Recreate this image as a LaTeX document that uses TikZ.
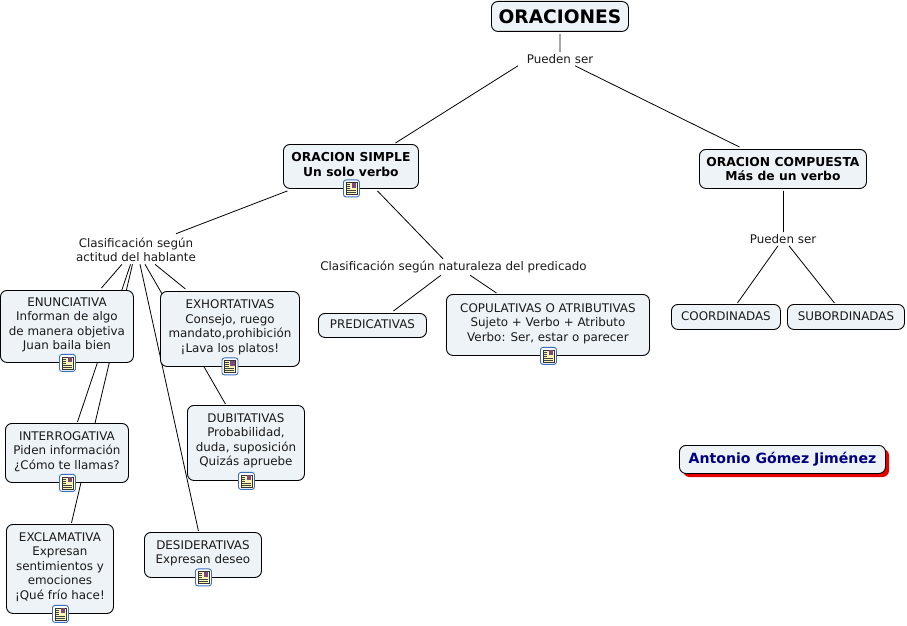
\documentclass[tikz,border=0pt]{standalone}
\usepackage{fontspec}
\setmainfont{DejaVu Sans}
\usetikzlibrary{backgrounds}
\definecolor{boxfill}{HTML}{EDF3F7}
\definecolor{txt}{HTML}{1A1A1A}
\definecolor{iconblue}{HTML}{3A6FC0}
\definecolor{iconpaper}{HTML}{FBF5B8}
\newcommand{\nf}{\fontsize{11.9}{14.5}\selectfont}
\tikzset{
  x=1pt,y=-1pt,
  cbox/.style={draw=black,line width=0.9pt,fill=boxfill,rounded corners=6.5pt,align=center,inner sep=0pt,font=\nf,text=txt,anchor=north west,text depth=5.5pt},
  onebox/.style={cbox,text depth=2pt},
  boldbox/.style={cbox,font=\fontsize{12.3}{14.6}\selectfont\bfseries,text=black,text depth=4.5pt},
  lbl/.style={align=center,inner sep=0pt,font=\nf,text=txt},
  conn/.style={draw=black,line width=0.8pt},
  noteicon/.pic={
    \draw[iconblue,fill=white,line width=0.9pt,rounded corners=2.5pt] (-8,-8.5) rectangle (8,8.5);
    \fill[iconpaper,draw=black!80,line width=0.5pt] (-5.5,-6) rectangle (5.5,6);
    \fill[iconblue!65!red] (0.5,-5.5) rectangle (5,-0.8);
    \foreach \yy/\xe in {-4/-1,-2/-1,0/-1,2/4.5,4/4.5}{\draw[black!75,line width=0.45pt] (-4.5,\yy) -- (\xe,\yy);}
  }
}
\begin{document}
\begin{tikzpicture}
\useasboundingbox (0,0) rectangle (907,626);
% boxes
\node[cbox,text depth=,minimum width=137pt,minimum height=30pt,font=\fontsize{18.6}{22}\selectfont\bfseries,text=black] (root) at (491,1) {ORACIONES};
\node[boldbox,minimum width=135pt,minimum height=44pt] (simple) at (283,144) {ORACION SIMPLE\\Un solo verbo};
\node[boldbox,text depth=,minimum width=167pt,minimum height=39pt] (comp) at (699,149) {ORACION COMPUESTA\\Más de un verbo};
\node[cbox,minimum width=133pt,minimum height=72pt] (enun) at (0,290) {ENUNCIATIVA\\Informan de algo\\de manera objetiva\\Juan baila bien};
\node[cbox,minimum width=139pt,minimum height=75pt] (exho) at (160,291) {EXHORTATIVAS\\Consejo, ruego\\mandato,prohibición\\¡Lava los platos!};
\node[cbox,text depth=6.5pt,minimum width=117pt,minimum height=75pt] (dubi) at (187,405) {DUBITATIVAS\\Probabilidad,\\duda, suposición\\Quizás apruebe};
\node[cbox,minimum width=123pt,minimum height=59pt] (inte) at (5,423) {INTERROGATIVA\\Piden información\\¿Cómo te llamas?};
\node[cbox,text depth=6.5pt,minimum width=107pt,minimum height=89pt] (excl) at (6,524) {EXCLAMATIVA\\Expresan\\sentimientos y\\emociones\\¡Qué frío hace!};
\node[cbox,minimum width=117pt,minimum height=45pt] (desi) at (144,532) {DESIDERATIVAS\\Expresan deseo};
\node[onebox,minimum width=108pt,minimum height=24pt] (pred) at (318,313) {PREDICATIVAS};
\node[cbox,minimum width=203pt,minimum height=61pt] (copu) at (446,294) {COPULATIVAS O ATRIBUTIVAS\\Sujeto + Verbo + Atributo\\Verbo: Ser, estar o parecer};
\node[onebox,minimum width=109pt,minimum height=25pt] (coor) at (671,304) {COORDINADAS};
\node[onebox,minimum width=117pt,minimum height=25pt] (subo) at (787,304) {SUBORDINADAS};
\fill[red!90!black,rounded corners=6.5pt] (683,449) rectangle (889,477);
\node[cbox,text depth=,minimum width=206pt,minimum height=28pt,font=\fontsize{14.1}{17}\selectfont\bfseries,text={rgb,255:red,0;green,0;blue,128}] (auth) at (679,445) {Antonio Gómez Jiménez};
% labels
\node[lbl] (pue1) at (560,59) {Pueden ser};
\node[lbl] (cla1) at (136,250) {Clasificación según\\actitud del hablante};
\node[lbl] (cla2) at (453.5,267) {Clasificación según naturaleza del predicado};
\node[lbl] (pue2) at (783,239) {Pueden ser};
% connectors
\begin{scope}[on background layer]
\draw[conn] ([yshift=-2pt]root.south) -- ([yshift=2pt]pue1.north);
\draw[conn] ([xshift=-42pt,yshift=-2pt]pue1.south) -- ([xshift=44.5pt,yshift=1pt]simple.north);
\draw[conn] ([xshift=15pt,yshift=-2pt]pue1.south) -- ([xshift=-43.5pt,yshift=2pt]comp.north);
\draw[conn] ([xshift=-63.5pt,yshift=-2pt]simple.south) -- ([xshift=40pt,yshift=4pt]cla1.north);
\draw[conn] ([xshift=26.5pt,yshift=-2pt]simple.south) -- ([xshift=-10.5pt,yshift=2pt]cla2.north);
\draw[conn] ([xshift=-12.5pt,yshift=-2pt]cla2.south) -- ([xshift=21pt,yshift=2pt]pred.north);
\draw[conn] ([xshift=16.5pt,yshift=-2pt]cla2.south) -- ([xshift=-51.5pt,yshift=1pt]copu.north);
\draw[conn] ([xshift=0.5pt,yshift=-2pt]comp.south) -- ([xshift=0.5pt,yshift=2pt]pue2.north);
\draw[conn] ([xshift=-5pt,yshift=-2pt]pue2.south) -- ([xshift=11.5pt,yshift=1pt]coor.north);
\draw[conn] ([xshift=6pt,yshift=-2pt]pue2.south) -- ([xshift=-11.5pt,yshift=1pt]subo.north);
% fan from Clasificacion segun actitud
\draw[conn] ([xshift=-14pt,yshift=-2pt]cla1.south) -- ([xshift=34.5pt,yshift=2pt]enun.north);
\draw[conn] ([xshift=-5.5pt,yshift=-2pt]cla1.south) -- ([xshift=10.5pt,yshift=1pt]inte.north);
\draw[conn] ([xshift=-3.5pt,yshift=-2pt]cla1.south) -- ([xshift=11.5pt,yshift=1pt]excl.north);
\draw[conn] ([xshift=4pt,yshift=-2pt]cla1.south) -- ([xshift=-4.5pt,yshift=1pt]desi.north);
\draw[conn] ([xshift=9pt,yshift=-2pt]cla1.south) -- ([xshift=-20.5pt,yshift=1pt]dubi.north);
\draw[conn] ([xshift=19pt,yshift=-2pt]cla1.south) -- ([xshift=-44.5pt,yshift=2pt]exho.north);
\end{scope}
% icons
\pic at ([xshift=0.5pt,yshift=0.5pt]simple.south) {noteicon};
\pic at ([xshift=0.5pt]enun.south) {noteicon};
\pic at ([yshift=0.5pt]exho.south) {noteicon};
\pic at ([xshift=0.5pt]dubi.south) {noteicon};
\pic at ([xshift=0.5pt]inte.south) {noteicon};
\pic at ([xshift=0.5pt]excl.south) {noteicon};
\pic at ([xshift=0.5pt,yshift=0.5pt]desi.south) {noteicon};
\pic at ([xshift=0.5pt]copu.south) {noteicon};
\end{tikzpicture}
\end{document}
